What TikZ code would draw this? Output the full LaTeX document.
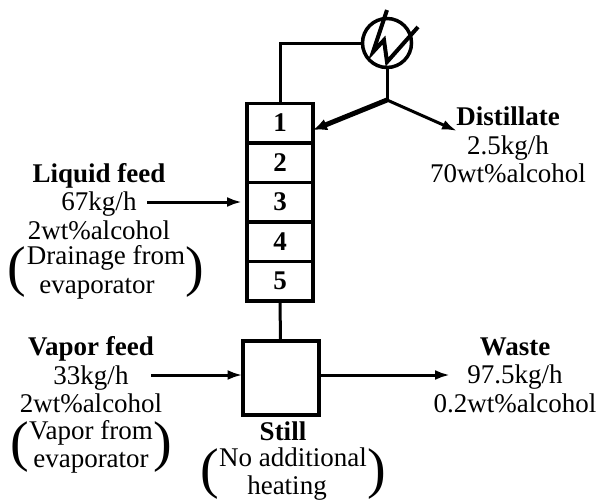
\documentclass[tikz,border=0pt]{standalone}
\usepackage{fontspec}
\setmainfont{Liberation Serif}
\usepackage{tikz}
\usetikzlibrary{arrows.meta,positioning,calc}

\begin{document}
\begin{tikzpicture}[
  x=1pt, y=-1pt,
  node distance=0pt,
  stage/.style={draw, line width=3.5pt, minimum width=66pt, minimum height=39.5pt, inner sep=0pt, outer sep=0pt, font=\fontsize{27}{28}\selectfont\bfseries},
  vessel/.style={draw, line width=4pt, minimum width=76pt, minimum height=74pt, inner sep=0pt, outer sep=0pt},
  label/.style={align=center, inner sep=0pt, font=\fontsize{27}{28.5}\selectfont},
  paren/.style={inner sep=0pt, font=\fontsize{56}{56}\selectfont},
  pipe/.style={line width=3pt},
  arrow/.style={-{Latex[length=15pt,width=10pt]}, line width=3pt}
]
\useasboundingbox (0,0) rectangle (600,501);
\node[stage] (s1) at (280,123) {1};
\node[stage, below=of s1] (s2) {2};
\node[stage, below=of s2] (s3) {3};
\node[stage, below=of s3] (s4) {4};
\node[stage, below=of s4] (s5) {5};
\node[vessel] (still) at (280.5,378) {};
\node[draw, circle, line width=3.5pt, minimum size=49pt, inner sep=0pt, outer sep=0pt] (cond) at (387,43) {};
\coordinate (split) at (387,100);
\coordinate (liqin) at (147,202);
\coordinate (vapin) at (151,375);
\coordinate (wasteout) at (450,375);
\coordinate (distout) at (457,131);
\coordinate (zigtop) at (387,10);
\coordinate (zigend) at (418,27);
% overhead and reflux
\draw[pipe] (s1.north) |- (cond.west);
\draw[pipe] (cond.south) -- (split);
\draw[-{Latex[length=14pt,width=12pt]}, line width=5pt] (split) -- (s1.east |- 0,130);
\draw[arrow] (split) -- (distout);
\draw[line width=4pt, line join=miter] (zigtop) -- (373,52) -- (384,40) -- (387,62) -- (zigend);
\draw[pipe] (s5.south) -- (still.north);
% feeds
\draw[arrow, shorten >=5pt] (liqin) -- (s3.west);
\draw[arrow] (vapin) -- (still.west |- vapin);
\draw[arrow] (still.east |- wasteout) -- (wasteout);
% labels
\node[label] (dist) at (508,145) {\textbf{Distillate}\\2.5kg/h\\70wt\%alcohol};
\node[label] (liq) at (99,201.5) {\textbf{Liquid feed}\\\hspace*{0pt}67kg/h\\2wt\%alcohol};
\node[label] (liqnote) at (106,272.5) {Drainage from\\evaporator\hspace*{18pt}};
\node[paren, left=0pt of liqnote] (liqL) {(};
\node[paren, right=0pt of liqnote] (liqR) {)};
\node[label] (vap) at (91,375) {\textbf{Vapor feed}\\33kg/h\\2wt\%alcohol};
\node[label] (vapnote) at (91,447) {Vapor from\\evaporator};
\node[paren, left=0pt of vapnote] (vapL) {(};
\node[paren, right=0pt of vapnote] (vapR) {)};
\node[label] (waste) at (515,375) {\textbf{Waste}\\97.5kg/h\\0.2wt\%alcohol};
\node[label] (stilltxt) at (283,431) {\textbf{Still}};
\node[label] (stillnote) at (293,474) {No additional\\heating\hspace*{12pt}};
\node[paren, left=0pt of stillnote] (stillL) {(};
\node[paren, right=0pt of stillnote] (stillR) {)};
\end{tikzpicture}
\end{document}
